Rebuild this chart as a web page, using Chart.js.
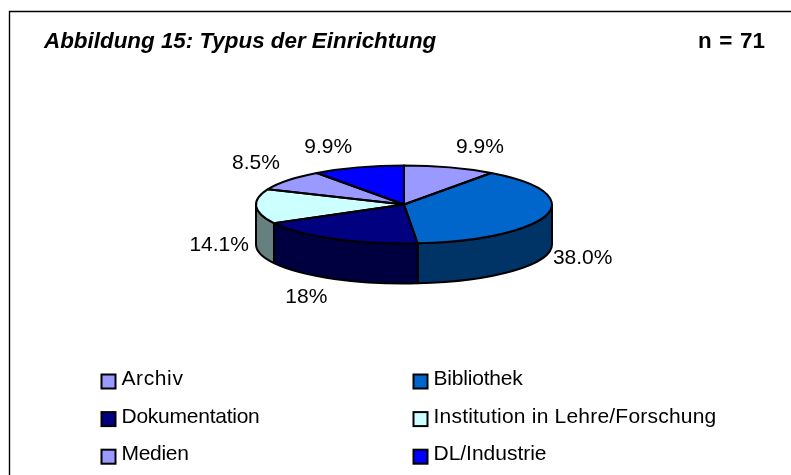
<!DOCTYPE html>
<html>
<head>
<meta charset="utf-8">
<style>html,body{margin:0;padding:0;background:#fff}canvas{display:block}</style>
<script src="https://cdn.jsdelivr.net/npm/chart.js@4"></script>
</head>
<body>
<canvas id="c" width="791" height="475"></canvas>
<script>
const categories = ["Archiv","Bibliothek","Dokumentation","Institution in Lehre/Forschung","Medien","DL/Industrie"];
const shares = [9.9,38.0,18.3,14.1,8.5,9.9];
const shareLabels = ["9.9%","38.0%","18%","14.1%","8.5%","9.9%"];
const topColors = ["#9999FF","#0066CC","#000080","#CCFFFF","#9999FF","#0000FF"];
const wallColors = ["#4D4D80","#003366","#000040","#668080","#4D4D80","#000080"];
const titleText = "Abbildung 15: Typus der Einrichtung";
const countText = "n = 71";

const FONT = '"Liberation Sans", Arial, sans-serif';
const RADIUS = 148, RY = 39, DEPTH = 40, LINE = 2;
const labelNudge = [[30,-20],[36,43],[-28,58],[-37,39],[-32,-17.5],[-30,-20]];
const legendTextWidths = [62,89,138,283,67,113];

const pie3d = {
  id: 'pie3d',
  beforeDatasetsDraw(chart){
    const ctx = chart.ctx, arcs = chart.getDatasetMeta(0).data;
    const {x:cx, y:cy} = arcs[0];
    ctx.save();
    ctx.lineWidth = LINE; ctx.strokeStyle = '#000'; ctx.lineJoin = 'round';
    arcs.forEach((a,i)=>{
      const s = Math.max(a.startAngle,0), e = Math.min(a.endAngle,Math.PI);
      if (e <= s) return;
      ctx.beginPath();
      ctx.ellipse(cx,cy,RADIUS,RY,0,s,e);
      ctx.ellipse(cx,cy+DEPTH,RADIUS,RY,0,e,s,true);
      ctx.closePath();
      ctx.fillStyle = wallColors[i];
      ctx.fill(); ctx.stroke();
    });
    ctx.restore();
    ctx.save();
    ctx.translate(cx,cy); ctx.scale(1,RY/RADIUS); ctx.translate(-cx,-cy);
  },
  afterDatasetsDraw(chart){
    const ctx = chart.ctx, arcs = chart.getDatasetMeta(0).data;
    ctx.restore();
    const {x:cx, y:cy} = arcs[0];
    ctx.save();
    ctx.lineWidth = LINE; ctx.strokeStyle = '#000'; ctx.lineJoin = 'round';
    arcs.forEach(a=>{
      ctx.beginPath();
      ctx.moveTo(cx,cy);
      ctx.ellipse(cx,cy,RADIUS,RY,0,a.startAngle,a.endAngle);
      ctx.closePath();
      ctx.stroke();
    });
    ctx.fillStyle = '#000';
    ctx.font = '21px '+FONT; ctx.textAlign='center'; ctx.textBaseline='middle';
    arcs.forEach((a,i)=>{
      const m = (a.startAngle+a.endAngle)/2;
      ctx.fillText(shareLabels[i], cx+RADIUS*Math.cos(m)+labelNudge[i][0], cy+RY*Math.sin(m)+labelNudge[i][1]);
    });
    ctx.restore();
  },
  afterDraw(chart){
    const ctx = chart.ctx;
    ctx.save();
    ctx.strokeStyle='#000'; ctx.lineWidth=1.4;
    ctx.beginPath(); ctx.moveTo(9.5,480); ctx.lineTo(9.5,11.5); ctx.lineTo(795,11.5); ctx.stroke();
    ctx.fillStyle='#000'; ctx.textBaseline='alphabetic'; ctx.textAlign='left';
    ctx.font='italic bold 22.4px '+FONT; ctx.fillText(titleText,44,48);
    ctx.font='bold 22.4px '+FONT; ctx.textAlign='right'; ctx.wordSpacing='1.5px'; ctx.fillText(countText,765,48);
    ctx.wordSpacing='0px';
    ctx.textAlign='left'; ctx.font='21px '+FONT; ctx.textBaseline='middle';
    categories.forEach((c,i)=>{
      const col=i%2, row=Math.floor(i/2);
      const x=col?413.5:101.5, y=374.5+row*37.6;
      ctx.fillStyle=topColors[i]; ctx.fillRect(x,y,14,14);
      ctx.lineWidth=2; ctx.strokeRect(x,y,14,14);
      ctx.letterSpacing='0px';
      const extra=(legendTextWidths[i]-ctx.measureText(c).width)/c.length;
      ctx.letterSpacing=extra.toFixed(3)+'px';
      ctx.fillStyle='#000'; ctx.fillText(c,x+20,y+5);
    });
    ctx.restore();
  }
};

new Chart(document.getElementById('c'),{
  type:'pie',
  data:{labels:categories,datasets:[{data:shares,backgroundColor:topColors,borderWidth:0}]},
  options:{
    responsive:false,animation:false,
    radius:RADIUS,
    layout:{padding:{left:17,right:0,top:0,bottom:66}},
    plugins:{legend:{display:false},tooltip:{enabled:false}}
  },
  plugins:[pie3d]
});
</script>
</body>
</html>
